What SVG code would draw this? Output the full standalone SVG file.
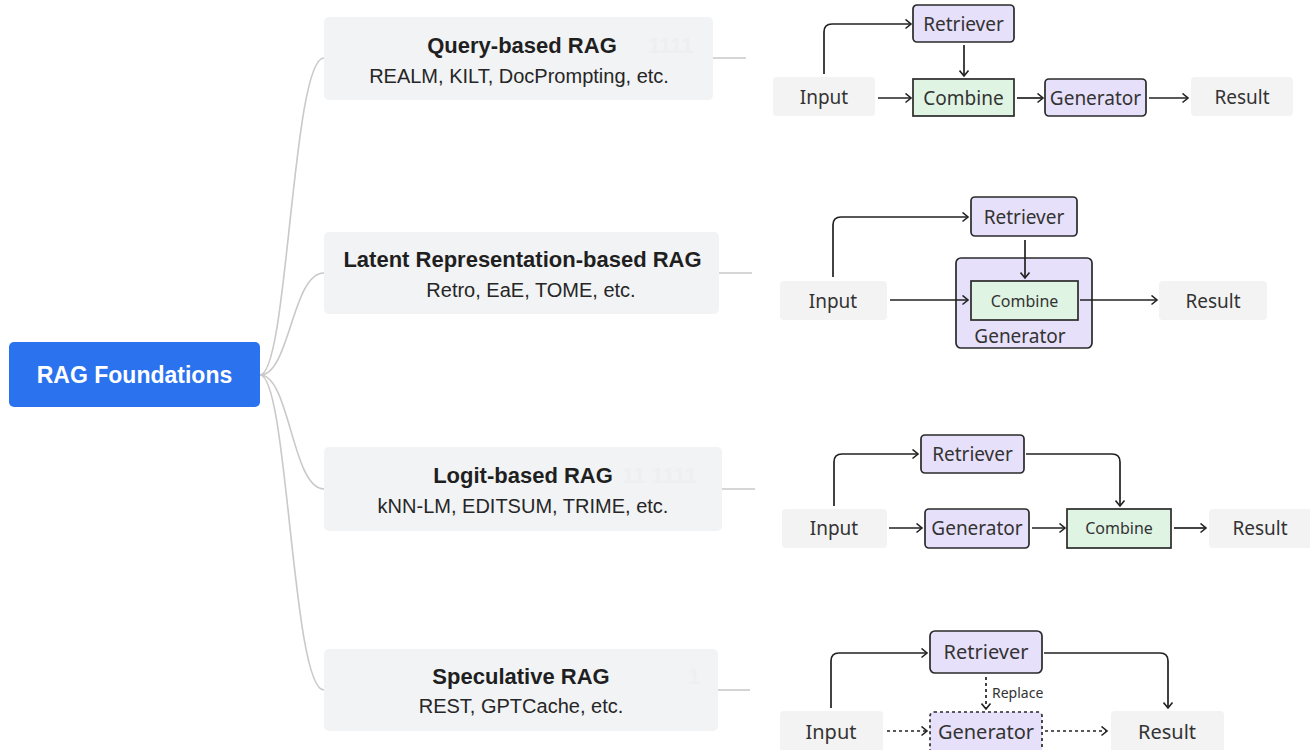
<svg xmlns="http://www.w3.org/2000/svg" width="1310" height="750" viewBox="0 0 1310 750">
<style>
.cat{fill:#f2f3f5}
.t{font-family:"Liberation Sans",Arial,sans-serif;font-weight:bold;font-size:22px;fill:#1f1f1f;text-anchor:middle}
.s{font-family:"Liberation Sans",Arial,sans-serif;font-size:20px;fill:#262626;text-anchor:middle}
.f{font-family:"Liberation Sans",Arial,sans-serif;font-weight:bold;font-size:22px;fill:#eeeff1}
.br{fill:none;stroke:#c9c9c9;stroke-width:1.6}
.io{fill:#f3f3f3}
.lav{fill:#e7e0fa;stroke:#2a2a2a;stroke-width:1.7}
.grn{fill:#e0f4e4;stroke:#2a2a2a;stroke-width:1.7}
.dash{stroke-dasharray:3 3}
.n{font-family:"Noto Sans","DejaVu Sans",sans-serif;font-size:19px;fill:#333;text-anchor:middle}
.sm{font-size:16px}
.lg{font-size:20px}
.c{fill:none;stroke:#222;stroke-width:1.7;marker-end:url(#ah)}
</style>
<defs>
<marker id="ah" viewBox="-1 -1 8 11" refX="5.5" refY="4.5" markerWidth="8" markerHeight="11" markerUnits="userSpaceOnUse" orient="auto">
<path d="M0,0 L5.5,4.5 L0,9" fill="none" stroke="#222" stroke-width="1.6"/>
</marker>
</defs>
<rect width="1310" height="750" fill="#ffffff"/>

<g id="branches">
<path class="br" d="M260 375 C288 375 292 58 324 58"/>
<path class="br" d="M260 375 C290 375 292 273 324 273"/>
<path class="br" d="M260 375 C290 375 292 489 324 489"/>
<path class="br" d="M260 375 C288 375 292 690 324 690"/>
<path class="br" d="M713 58 H746"/>
<path class="br" d="M719 273 H752"/>
<path class="br" d="M722 489 H755"/>
<path class="br" d="M718 690 H750"/>
</g>

<g id="root">
<rect x="9" y="342" width="251" height="65" rx="5" fill="#2b72ee"/>
<text x="134.5" y="383" font-family="Liberation Sans, Arial, sans-serif" font-weight="bold" font-size="23" fill="#ffffff" text-anchor="middle">RAG Foundations</text>
</g>

<g id="query-based">
<rect class="cat" x="324" y="17" width="389" height="83" rx="5"/>
<text class="t" x="522" y="53">Query-based RAG</text>
<text class="f" x="648" y="53">1111</text>
<text class="s" x="519" y="83">REALM, KILT, DocPrompting, etc.</text>
</g>

<g id="latent-based">
<rect class="cat" x="324" y="232" width="395" height="82" rx="5"/>
<text class="t" x="522.5" y="267">Latent Representation-based RAG</text>
<text class="s" x="531" y="297">Retro, EaE, TOME, etc.</text>
</g>

<g id="logit-based">
<rect class="cat" x="324" y="447" width="398" height="84" rx="5"/>
<text class="t" x="523" y="483">Logit-based RAG</text>
<text class="f" x="622" y="483">11 1111</text>
<text class="s" x="523" y="513">kNN-LM, EDITSUM, TRIME, etc.</text>
</g>

<g id="speculative">
<rect class="cat" x="324" y="649" width="394" height="82" rx="5"/>
<text class="t" x="521" y="684">Speculative RAG</text>
<text class="f" x="688" y="684">1</text>
<text class="s" x="521" y="713">REST, GPTCache, etc.</text>
</g>

<!-- Diagram 1 -->
<g id="d1-input"><rect class="io" x="773" y="77" width="102" height="39" rx="4"/><text class="n" x="824" y="104">Input</text></g>
<g id="d1-retriever"><rect class="lav" x="913" y="5" width="101" height="37" rx="4"/><text class="n" x="963.5" y="31">Retriever</text></g>
<g id="d1-combine"><rect class="grn" x="913" y="79" width="101" height="37"/><text class="n" x="963.5" y="105">Combine</text></g>
<g id="d1-generator"><rect class="lav" x="1045" y="79" width="101" height="37" rx="4"/><text class="n" x="1095.5" y="105">Generator</text></g>
<g id="d1-result"><rect class="io" x="1191" y="77" width="102" height="39" rx="4"/><text class="n" x="1242" y="104">Result</text></g>

<!-- Diagram 2 -->
<g id="d2-input"><rect class="io" x="780" y="281" width="107" height="39" rx="4"/><text class="n" x="833" y="308">Input</text></g>
<g id="d2-retriever"><rect class="lav" x="971" y="197" width="106" height="39" rx="4"/><text class="n" x="1024" y="224">Retriever</text></g>
<g id="d2-generator"><rect class="lav" x="956" y="258" width="136" height="90" rx="5"/><text class="n" x="1020" y="343">Generator</text></g>
<g id="d2-combine"><rect class="grn" x="971" y="281" width="107" height="39"/><text class="n sm" x="1024.5" y="307">Combine</text></g>
<g id="d2-result"><rect class="io" x="1159" y="281" width="108" height="39" rx="4"/><text class="n" x="1213" y="308">Result</text></g>

<!-- Diagram 3 -->
<g id="d3-input"><rect class="io" x="782" y="509" width="105" height="39" rx="4"/><text class="n" x="834" y="535">Input</text></g>
<g id="d3-retriever"><rect class="lav" x="921" y="435" width="103" height="38" rx="4"/><text class="n" x="972.5" y="461">Retriever</text></g>
<g id="d3-generator"><rect class="lav" x="925" y="509" width="104" height="39" rx="4"/><text class="n" x="977" y="535">Generator</text></g>
<g id="d3-combine"><rect class="grn" x="1067" y="509" width="104" height="39"/><text class="n sm" x="1119" y="534">Combine</text></g>
<g id="d3-result"><rect class="io" x="1209" y="509" width="103" height="39" rx="4"/><text class="n" x="1260" y="535">Result</text></g>

<!-- Diagram 4 -->
<g id="d4-input"><rect class="io" x="780" y="711" width="103" height="42" rx="4"/><text class="n lg" x="831" y="739">Input</text></g>
<g id="d4-retriever"><rect class="lav" x="930" y="631" width="112" height="42" rx="5"/><text class="n lg" x="986" y="659">Retriever</text></g>
<g id="d4-generator"><rect class="lav dash" x="930" y="712" width="112" height="42" rx="4"/><text class="n lg" x="986" y="739">Generator</text></g>
<g id="d4-result"><rect class="io" x="1111" y="711" width="113" height="42" rx="4"/><text class="n lg" x="1167" y="739">Result</text></g>

<g id="connectors">
<path class="c" d="M824 74 V32 Q824 24 832 24 H911"/>
<path class="c" d="M964 45 V76"/>
<path class="c" d="M878 98 H911"/>
<path class="c" d="M1017 98 H1043"/>
<path class="c" d="M1149 98 H1188"/>

<path class="c" d="M833 277 V225 Q833 217 841 217 H968"/>
<path class="c" d="M1025 240 V278"/>
<path class="c" d="M890 300 H968"/>
<path class="c" d="M1080 300 H1157"/>

<path class="c" d="M834 506 V462 Q834 454 842 454 H918"/>
<path class="c" d="M1026 454 H1112 Q1120 454 1120 462 V506"/>
<path class="c" d="M889 528 H922"/>
<path class="c" d="M1032 528 H1065"/>
<path class="c" d="M1174 528 H1206"/>

<path class="c" d="M831 708 V661 Q831 653 839 653 H927"/>
<path class="c" d="M1044 653 H1160 Q1168 653 1168 661 V708"/>
<path class="c dash" d="M986 677 V709"/>
<path class="c dash" d="M887 731 H927"/>
<path class="c dash" d="M1045 731 H1107"/>
<text x="992" y="698" font-family="Noto Sans, DejaVu Sans, sans-serif" font-size="14" fill="#333">Replace</text>
</g>
</svg>
